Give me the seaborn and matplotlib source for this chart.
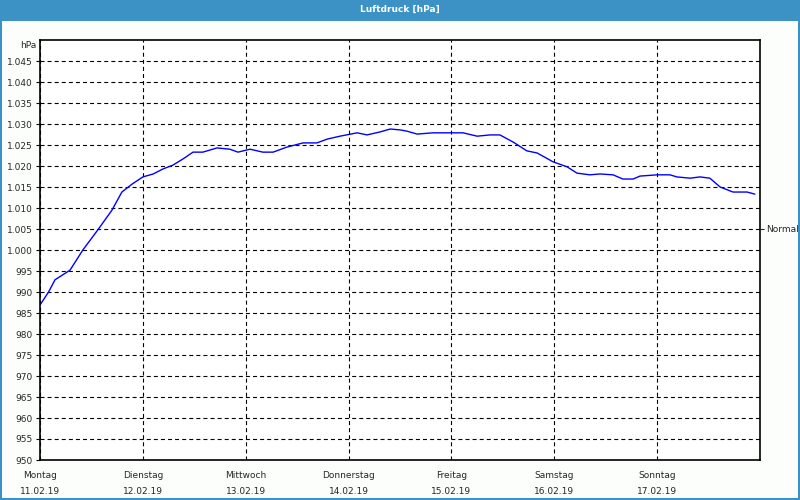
import matplotlib
matplotlib.use("Agg")
import matplotlib.pyplot as plt
import seaborn as sns
import pandas as pd
from matplotlib.patches import Rectangle

# ---- data ----
hours = [0, 2, 3.5, 7, 10, 13.5, 16.8, 19.1, 21.5, 24, 26.4, 28.7, 31, 33.4, 35.7,
         38, 41.3, 44.3, 46.2, 49, 52, 54.4, 57.6, 61.4, 64.6, 67, 70, 74, 76.3,
         79.3, 81.7, 84, 85.6, 88, 91.7, 95.7, 98.7, 102, 105, 107.3, 110.4, 113.6,
         116, 119.7, 123, 125.3, 128.3, 130.7, 133.7, 136, 138.4, 140, 144, 147,
         148.6, 151.7, 154, 156.3, 158.7, 161.7, 165, 166.8]
pressure = [986.9, 990.0, 992.9, 995.2, 1000.0, 1004.8, 1009.5, 1013.8, 1015.7, 1017.4,
            1018.1, 1019.3, 1020.2, 1021.7, 1023.3, 1023.3, 1024.3, 1024.0, 1023.3,
            1024.0, 1023.3, 1023.3, 1024.5, 1025.5, 1025.5, 1026.4, 1027.1, 1027.9,
            1027.4, 1028.1, 1028.8, 1028.6, 1028.3, 1027.6, 1027.9, 1027.9, 1027.9,
            1027.1, 1027.4, 1027.4, 1025.7, 1023.6, 1023.1, 1021.0, 1019.8, 1018.3,
            1017.9, 1018.1, 1017.9, 1016.9, 1016.9, 1017.6, 1017.9, 1017.9, 1017.4,
            1017.1, 1017.4, 1017.1, 1015.0, 1013.8, 1013.8, 1013.3]
day_names = ["Montag", "Dienstag", "Mittwoch", "Donnerstag", "Freitag", "Samstag", "Sonntag"]
day_dates = ["11.02.19", "12.02.19", "13.02.19", "14.02.19", "15.02.19", "16.02.19", "17.02.19"]
y_ticks = list(range(950, 1050, 5))
title = "Luftdruck [hPa]"
normal_value = 1005

df = pd.DataFrame({"hours": hours, "pressure": pressure})

sns.set_style("white")
plt.rcParams["font.family"] = ["DejaVu Sans"]
plt.rcParams["lines.scale_dashes"] = False

FS = 6.5
fig = plt.figure(figsize=(8, 5), dpi=100, facecolor="#fcfefc")
blue = "#3c92c5"

# title bar and border
fig.patches.append(Rectangle((0, 0.959), 1, 0.041, transform=fig.transFigure,
                             facecolor=blue, edgecolor="none", zorder=0))
fig.patches.append(Rectangle((0.0012, 0.002), 0.9976, 0.96, transform=fig.transFigure,
                             facecolor="none", edgecolor=blue, linewidth=1.5, zorder=0))
fig.text(0.5, 0.982, title, color="white", fontsize=FS, fontweight="bold",
         ha="center", va="center")

ax = fig.add_axes([0.05, 0.08, 0.90, 0.84])
ax.set_facecolor("white")
sns.lineplot(data=df, x="hours", y="pressure", ax=ax, color="#0000ff", linewidth=1.0)

ax.set_xlim(0, 168)
ax.set_ylim(950, 1050)
ax.set_xlabel("")
ax.set_ylabel("")

def de_fmt(v):
    return f"{v:,}".replace(",", ".")

ax.set_yticks(y_ticks)
ax.set_yticklabels([de_fmt(v) for v in y_ticks], fontsize=FS)
ax.set_xticks([24 * i for i in range(7)])
ax.set_xticklabels([f"{n}\n{d}" for n, d in zip(day_names, day_dates)],
                   fontsize=FS, linespacing=1.95)
ax.tick_params(axis="both", length=3, width=0.8, color="black", pad=2, direction="out")
ax.tick_params(axis="x", pad=5)

ax.grid(True, color="black", linestyle=(0, (2.9, 2.2)), linewidth=0.8)
for s in ax.spines.values():
    s.set_color("black")
    s.set_linewidth(1.2)

ax.text(-0.005, 0.988, "hPa", transform=ax.transAxes, ha="right", va="center", fontsize=FS)

ax2 = ax.twinx()
ax2.set_ylim(950, 1050)
ax2.set_yticks([normal_value])
ax2.set_yticklabels(["Normal"], fontsize=FS)
ax2.tick_params(axis="y", length=3, width=0.8, pad=1.5)
for s in ax2.spines.values():
    s.set_visible(False)

fig.savefig("out.png", dpi=100, facecolor=fig.get_facecolor())
